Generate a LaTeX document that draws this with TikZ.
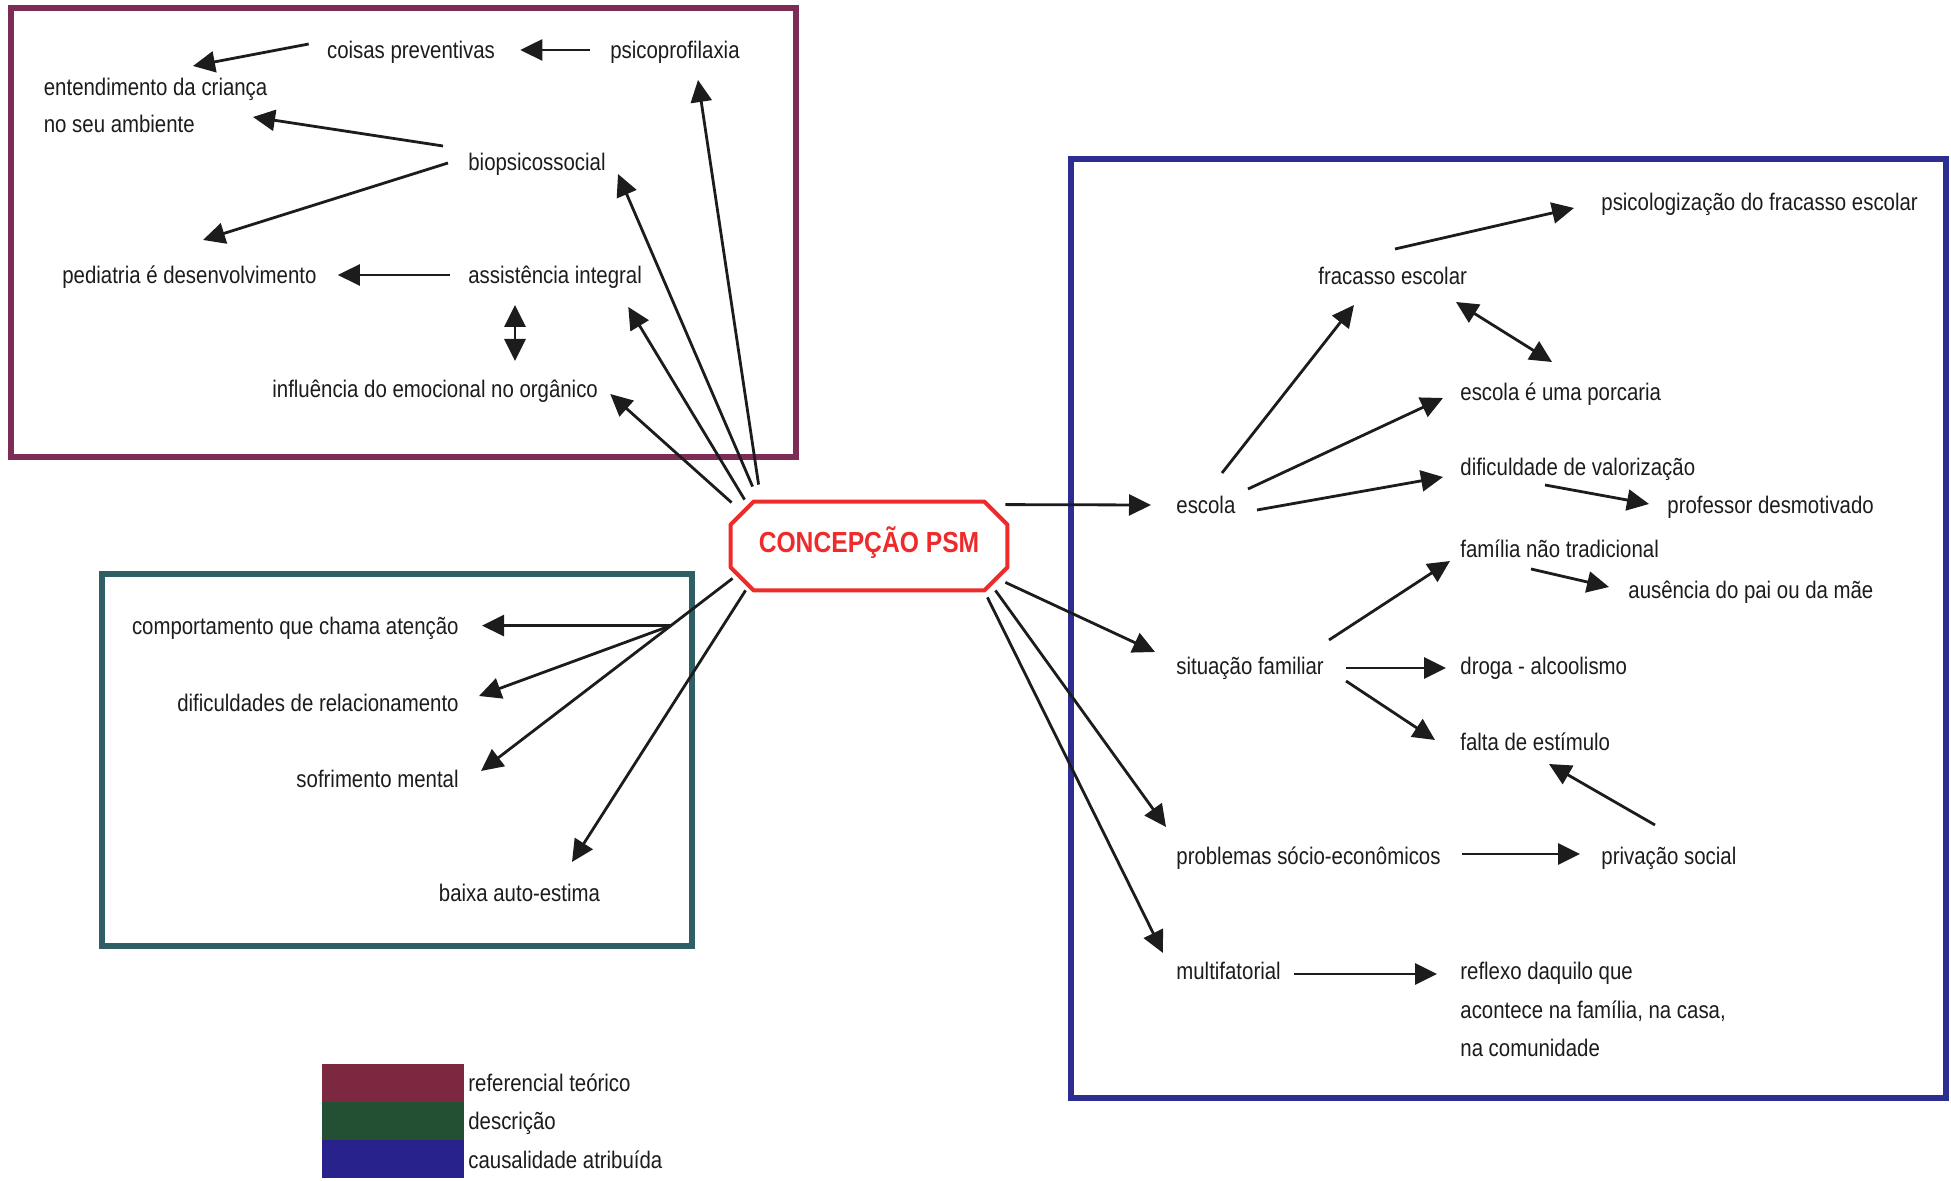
\documentclass[tikz,border=0pt]{standalone}
\usepackage{fontspec}
\setmainfont{Liberation Sans}[FakeStretch=0.85]
\usetikzlibrary{arrows.meta,calc}

\definecolor{ink}{HTML}{1C1C1C}
\definecolor{refpurple}{HTML}{7D2D55}
\definecolor{descteal}{HTML}{2D5F64}
\definecolor{causblue}{HTML}{2D2D91}
\definecolor{legpurple}{HTML}{7D2841}
\definecolor{leggreen}{HTML}{235032}
\definecolor{legblue}{HTML}{28238C}
\definecolor{psmred}{HTML}{EE2A2A}

\begin{document}
\begin{tikzpicture}[x=0.5pt, y=-0.5pt,
  lbl/.style={inner sep=0pt, text height=8.6pt, text depth=0pt,
              font=\fontsize{12}{14}\selectfont, text=ink},
  lw/.style={lbl, anchor=west},
  le/.style={lbl, anchor=east},
  lc/.style={lbl, anchor=center},
  mlbl/.style={inner sep=0pt, anchor=north west, align=left, text=ink},
  arr/.style={line width=1.4pt, draw=ink, -{Triangle[length=11pt,width=10.5pt]}},
  dblarr/.style={line width=1.4pt, draw=ink,
                 {Triangle[length=11pt,width=10.5pt]}-{Triangle[length=11pt,width=10.5pt]}},
  frame/.style={line width=3pt},
  legtext/.style={lbl, anchor=west}
]
\useasboundingbox (0,0) rectangle (1951,1181);

% group frames
\draw[frame, refpurple] (11,8) rectangle (796,457);
\draw[frame, descteal] (102,574) rectangle (692,946);
\draw[frame, causblue] (1071,159) rectangle (1946,1098);

% central concept
\node[inner sep=0pt, minimum width=138pt, minimum height=44pt] (psm) at (869,546) {};
\draw[psmred, line width=2pt, line join=round]
  ([shift={(23,0)}]psm.north west) -- ([shift={(-23,0)}]psm.north east)
  -- ([shift={(0,23)}]psm.north east) -- ([shift={(0,-23)}]psm.south east)
  -- ([shift={(-23,0)}]psm.south east) -- ([shift={(23,0)}]psm.south west)
  -- ([shift={(0,-23)}]psm.south west) -- ([shift={(0,23)}]psm.north west) -- cycle;
\node[text=psmred, font=\fontsize{14.5}{16}\bfseries\selectfont, inner sep=0pt,
      text height=10.4pt, text depth=0pt] (psmtext) at (869,542) {CONCEPÇÃO PSM};

% theoretical framework
\node[lc] (coisas) at (411,50) {coisas preventivas};
\node[lc] (psico) at (675,50) {psicoprofilaxia};
\node[mlbl, font=\fontsize{12}{18.5}\selectfont] (ent) at (43.5,78) {entendimento da criança\\no seu ambiente};
\node[lc] (bio) at (537,162) {biopsicossocial};
\node[lw] (ped) at (62,275) {pediatria é desenvolvimento};
\node[lw] (assist) at (468,275) {assistência integral};
\node[lw] (infl) at (272,389) {influência do emocional no orgânico};

\draw[arr] ([shift={(-18,-6)}]coisas.west) -- ([shift={(149.5,-12)}]ent.north west);
\draw[arr] ([shift={(-20,0)}]psico.west) -- ([shift={(25,0)}]coisas.east);
\draw[arr] ([shift={(-25,-16)}]bio.west) -- ([shift={(209.5,39)}]ent.north west);
\draw[arr] ([shift={(-20,1)}]bio.west) -- ([shift={(141,-35)}]ped.west);
\draw[arr] ([shift={(-18,0)}]assist.west) -- ([shift={(21,0)}]ped.east);
\draw[dblarr] ([shift={(47,30)}]assist.west) -- ([shift={(243,-28)}]infl.west);

\draw[arr] ([shift={(1,1)}]psm.north west) -- ([shift={(12,5)}]infl.east);
\draw[arr] ([shift={(14,-2)}]psm.north west) -- ([shift={(-14,32)}]assist.east);
\draw[arr] ([shift={(22,-15)}]psm.north west) -- ([shift={(12,12)}]bio.east);
\draw[arr] ([shift={(28,-17)}]psm.north west) -- ([shift={(23,30)}]psico.center);

% description
\node[le] (comp) at (459,626) {comportamento que chama atenção};
\node[le] (difi) at (459,703) {dificuldades de relacionamento};
\node[le] (sofr) at (459,779) {sofrimento mental};
\node[lc] (baixa) at (519.5,893) {baixa auto-estima};

\draw[arr] ([shift={(2,-12)}]psm.south west) -- ([shift={(22,-8)}]sofr.east)
  coordinate[pos=0.245] (br);
\draw[arr] (br) -- ([xshift=11.5pt]comp.east |- br);
\draw[arr] (br) -- ([shift={(20,-7)}]difi.east);
\draw[arr] ([shift={(15,0)}]psm.south west) -- ([shift={(52.5,-31)}]baixa.center);

% attributed causality
\node[lw] (psicol) at (1601,202) {psicologização do fracasso escolar};
\node[lw] (frac) at (1318,276) {fracasso escolar};
\node[lw] (porc) at (1460,392) {escola é uma porcaria};
\node[lw] (dific) at (1460,467) {dificuldade de valorização};
\node[lw] (prof) at (1667,505) {professor desmotivado};
\node[lw] (escola) at (1176,505) {escola};
\node[lw] (fam) at (1460,549) {família não tradicional};
\node[lw] (aus) at (1628,590) {ausência do pai ou da mãe};
\node[lw] (sit) at (1176,666) {situação familiar};
\node[lw] (droga) at (1460,666) {droga - alcoolismo};
\node[lw] (falta) at (1460,742) {falta de estímulo};
\node[lw] (prob) at (1176,856) {problemas sócio-econômicos};
\node[lw] (priv) at (1601,856) {privação social};
\node[lw] (multi) at (1176,971) {multifatorial};
\node[mlbl, font=\fontsize{12}{19.25}\selectfont] (refl) at (1460,962)
  {reflexo daquilo que\\acontece na família, na casa,\\na comunidade};

\draw[arr] ([shift={(-2,3)}]psm.north east) -- ([shift={(-25,0)}]escola.west);
\draw[arr] ([shift={(46,-32)}]escola.west) -- ([shift={(36,29)}]frac.west);
\draw[arr] ([shift={(72,-16)}]escola.west) -- ([shift={(-17,6)}]porc.west);
\draw[arr] ([shift={(81,5)}]escola.west) -- ([shift={(-17,10)}]dific.west);
\draw[arr] ([shift={(77,-27)}]frac.west) -- ([shift={(-27,6)}]psicol.west);
\draw[dblarr] ([shift={(138,26)}]frac.west) -- ([shift={(92,-30)}]porc.west);
\draw[arr] ([shift={(85,18)}]dific.west) -- ([shift={(-18,-1)}]prof.west);
\draw[arr] ([shift={(71,20)}]fam.west) -- ([shift={(-19,-3)}]aus.west);

\draw[arr] ([shift={(-2,-8)}]psm.south east) -- ([shift={(-21,-14)}]sit.west);
\draw[arr] ([shift={(153,-26)}]sit.west) -- ([shift={(-10,12)}]fam.west);
\draw[arr] ([shift={(170,2)}]sit.west) -- ([shift={(-14,2)}]droga.west);
\draw[arr] ([shift={(170,15)}]sit.west) -- ([shift={(-25,-2)}]falta.west);
\draw[arr] ([shift={(54,-31)}]priv.west) -- ([shift={(89,22)}]falta.west);

\draw[arr] ([shift={(-12,0)}]psm.south east) -- ([shift={(-10,-29)}]prob.west);
\draw[arr] ([shift={(286,-2)}]prob.west) -- ([shift={(-21,-2)}]priv.west);
\draw[arr] ([shift={(-20,7)}]psm.south east) -- ([shift={(-13,-18)}]multi.west);
\draw[arr] ([shift={(118,3)}]multi.west) -- ([shift={(-23,12)}]refl.north west);

% legend
\fill[legpurple] (322,1064) rectangle (464,1102);
\fill[leggreen] (322,1102) rectangle (464,1140);
\fill[legblue] (322,1140) rectangle (464,1178);
\node[legtext] (legref) at (468,1083) {referencial teórico};
\node[legtext] (legdesc) at (468,1121) {descrição};
\node[legtext] (legcaus) at (468,1160) {causalidade atribuída};
\end{tikzpicture}
\end{document}
